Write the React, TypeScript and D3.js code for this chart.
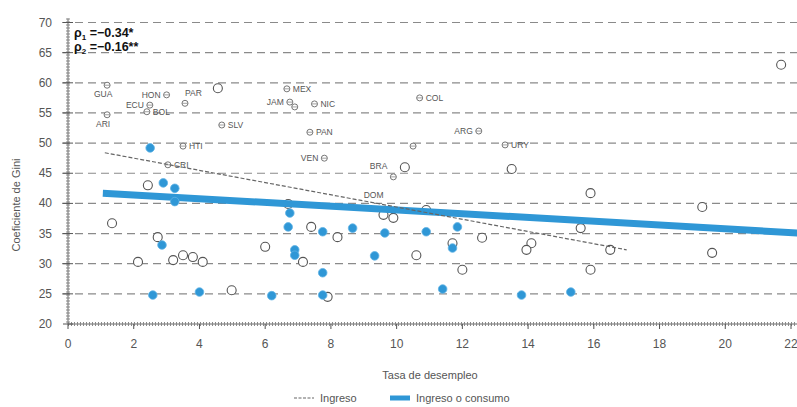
import React from "react";
import * as d3 from "d3";

// ---- data ----
const xTicks = [0, 2, 4, 6, 8, 10, 12, 14, 16, 18, 20, 22];
const yTicks = [20, 25, 30, 35, 40, 45, 50, 55, 60, 65, 70];

// Ingreso (hollow circles)
const ingresoX = [1.34, 2.43, 2.73, 2.13, 3.2, 3.5, 3.8, 4.1, 4.98, 6.0, 6.7, 7.4, 8.2, 7.15, 7.9, 9.6, 9.9, 10.9, 10.6, 11.7, 12.0, 12.6, 14.1, 13.95, 15.9, 15.6, 15.9, 16.5, 19.3, 19.6, 21.7, 10.25, 13.5, 4.56];
const ingresoY = [36.7, 43.0, 34.4, 30.3, 30.6, 31.4, 31.1, 30.3, 25.6, 32.8, 39.9, 36.1, 34.4, 30.3, 24.5, 38.1, 37.6, 38.9, 31.4, 33.4, 29.0, 34.3, 33.4, 32.3, 41.7, 35.9, 29.0, 32.3, 39.4, 31.8, 63.0, 46.0, 45.7, 59.1];

// Ingreso o consumo (blue filled)
const consumoX = [2.5, 2.9, 3.25, 3.25, 2.86, 2.58, 4.0, 6.2, 6.75, 6.7, 6.9, 6.9, 7.75, 8.66, 7.75, 7.75, 9.64, 9.33, 10.9, 11.85, 11.7, 11.4, 13.8, 15.3];
const consumoY = [49.2, 43.4, 42.5, 40.3, 33.1, 24.8, 25.3, 24.7, 38.4, 36.1, 32.3, 31.4, 35.3, 35.9, 28.5, 24.8, 35.1, 31.3, 35.3, 36.1, 32.6, 25.8, 24.8, 25.3];

// labelled countries (small markers)
const countryCodes = ["GUA", "HON", "PAR", "ECU", "BOL", "ARI", "HTI", "CRI", "SLV", "MEX", "JAM", "", "NIC", "COL", "PAN", "ARG", "", "URY", "VEN", "BRA"];
const countryX = [1.19, 3.0, 3.56, 2.49, 2.4, 1.19, 3.5, 3.04, 4.68, 6.66, 6.75, 6.9, 7.5, 10.7, 7.36, 12.5, 10.5, 13.3, 7.8, 9.9];
const countryY = [59.6, 58.0, 56.6, 56.3, 55.2, 54.7, 49.5, 46.4, 53.0, 59.0, 56.8, 56.0, 56.5, 57.5, 51.8, 52.0, 49.5, 49.7, 47.5, 44.4];
const countryPos = ["bl", "l", "t", "l", "r", "b", "r", "r", "r", "r", "l", "", "r", "r", "r", "l", "", "r", "l", "tl"];

// regression lines
const ingresoLineX = [1.12, 17.0];
const ingresoLineY = [48.4, 32.3];
const consumoLineX = [1.06, 22.2];
const consumoLineY = [41.7, 35.1];

const W = 797;
const H = 407;
const FONT = "'Liberation Sans Narrow', 'Liberation Sans', Arial, sans-serif";
const BLUE = "#2f97d6";

export default function App() {
  const x = d3.scaleLinear().domain([0, 22]).range([68, 791]);
  const y = d3.scaleLinear().domain([20, 70]).range([324, 22.5]);
  const line = d3.line<[number, number]>().x((d) => x(d[0])).y((d) => y(d[1]));

  const ingLine: [number, number][] = ingresoLineX.map((v, i) => [v, ingresoLineY[i]]);
  const conLine: [number, number][] = consumoLineX.map((v, i) => [v, consumoLineY[i]]);

  const labelOffset = (p: string): [number, number, string] => {
    switch (p) {
      case "l": return [-6, 3, "end"];
      case "r": return [6, 3, "start"];
      case "t": return [0, -7, "start"];
      case "b": return [-4, 12, "middle"];
      case "bl": return [-4, 12, "middle"];
      case "tl": return [-6, -8, "end"];
      default: return [0, 0, "start"];
    }
  };

  return (
    <svg width={W} height={H} style={{ position: "absolute", left: 0, top: 0, background: "#fff" }} fontFamily={FONT}>
      <defs>
        <clipPath id="plot">
          <rect x={60} y={10} width={W - 60} height={330} />
        </clipPath>
      </defs>
      {/* gridlines */}
      {yTicks.filter((t) => t > 20).map((t) => (
        <line key={"g" + t} x1={62} x2={W} y1={y(t)} y2={y(t)} stroke="#8a8a8a" strokeWidth={1.2} strokeDasharray="8,5" />
      ))}
      {/* axes */}
      <line x1={x(0)} x2={x(0)} y1={y(70) - 4} y2={y(20)} stroke="#666" strokeWidth={1} />
      <line x1={x(0)} x2={x(0)} y1={y(70) - 4} y2={y(20)} stroke="#888" strokeWidth={4} strokeDasharray="1,2" />
      <line x1={x(0)} x2={W} y1={y(20)} y2={y(20)} stroke="#666" strokeWidth={1} />
      <line x1={x(0)} x2={W} y1={y(20)} y2={y(20)} stroke="#888" strokeWidth={4} strokeDasharray="1,2" />
      {yTicks.map((t) => (
        <g key={"yt" + t}>
          <line x1={x(0) - 5} x2={x(0) + 5} y1={y(t)} y2={y(t)} stroke="#555" strokeWidth={1} />
          <text x={52} y={y(t) + 4} textAnchor="end" fontSize={12} fill="#555">{t}</text>
        </g>
      ))}
      {xTicks.map((t) => (
        <g key={"xt" + t}>
          <line x1={x(t)} x2={x(t)} y1={y(20)} y2={y(20) + 5} stroke="#555" strokeWidth={1} />
          <text x={x(t)} y={348} textAnchor="middle" fontSize={12} fill="#555">{t}</text>
        </g>
      ))}
      <text transform={`translate(20,205) rotate(-90)`} textAnchor="middle" fontSize={11} fill="#555">Coeficiente de Gini</text>
      <text x={430} y={379} textAnchor="middle" fontSize={11} fill="#555">Tasa de desempleo</text>

      <g clipPath="url(#plot)">
        {/* country markers and labels */}
        {countryX.map((cx, i) => {
          const [dx, dy, anchor] = labelOffset(countryPos[i]);
          return (
            <g key={"c" + i}>
              <circle cx={x(cx)} cy={y(countryY[i])} r={3} fill="#fff" stroke="#777" strokeWidth={1} />
              <line x1={x(cx) - 3} x2={x(cx) + 3} y1={y(countryY[i])} y2={y(countryY[i])} stroke="#888" strokeWidth={0.8} />
              {countryCodes[i] && (
                <text x={x(cx) + dx} y={y(countryY[i]) + dy} textAnchor={anchor} fontSize={8.5} fill="#555">{countryCodes[i]}</text>
              )}
            </g>
          );
        })}
        <text x={x(9.3)} y={y(40.9)} textAnchor="middle" fontSize={8.5} fill="#555">DOM</text>

        {/* hollow circles */}
        {ingresoX.map((cx, i) => (
          <circle key={"i" + i} cx={x(cx)} cy={y(ingresoY[i])} r={4.5} fill="#fff" stroke="#555" strokeWidth={1.1} />
        ))}

        {/* regression lines */}
        <path d={line(conLine) || ""} stroke={BLUE} strokeWidth={7} fill="none" />
        <path d={line(ingLine) || ""} stroke="#666" strokeWidth={1.2} strokeDasharray="4,2" fill="none" />

        {/* blue points */}
        {consumoX.map((cx, i) => (
          <circle key={"b" + i} cx={x(cx)} cy={y(consumoY[i])} r={4.3} fill={BLUE} stroke="#5fb2e4" strokeWidth={0.8} />
        ))}
      </g>

      {/* annotation */}
      <text x={74} y={37} fontSize={12.5} fontWeight="bold" fill="#111">
        ρ<tspan fontSize={8} dy={3}>1</tspan><tspan dy={-3}> =−0.34*</tspan>
      </text>
      <text x={74} y={51} fontSize={12.5} fontWeight="bold" fill="#111">
        ρ<tspan fontSize={8} dy={3}>2</tspan><tspan dy={-3}> =−0.16**</tspan>
      </text>

      {/* legend */}
      <line x1={294} x2={314} y1={398} y2={398} stroke="#666" strokeWidth={1.2} strokeDasharray="3,1.5" />
      <text x={320} y={402} fontSize={11} fill="#555">Ingreso</text>
      <line x1={390} x2={410} y1={398} y2={398} stroke={BLUE} strokeWidth={5} />
      <text x={416} y={402} fontSize={11} fill="#555">Ingreso o consumo</text>
    </svg>
  );
}
